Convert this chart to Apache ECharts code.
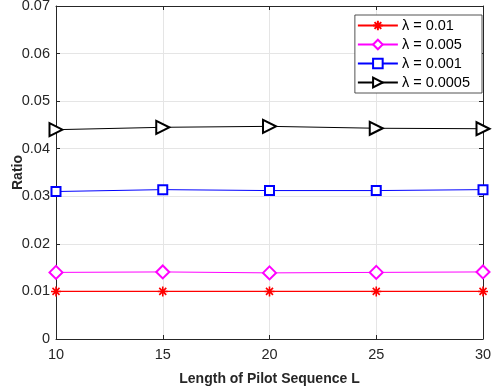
<!DOCTYPE html>
<html>
<head>
<meta charset="UTF-8">
<title>Ratio vs pilot length</title>
<script src="https://cdn.jsdelivr.net/npm/echarts@6/dist/echarts.min.js"></script>
<style>
	html, body { margin: 0; padding: 0; background: #fff; }
	#main { width: 492px; height: 388px; }
</style>
</head>
<body>
<div id="main"></div>
<script type="text/javascript">
	var pilotLen = [10, 15, 20, 25, 30];
	var ratioL001 = [0.0100, 0.0100, 0.0100, 0.0100, 0.0100];
	var ratioL0005 = [0.0140, 0.0141, 0.0139, 0.0140, 0.0141];
	var ratioL0001 = [0.0310, 0.0314, 0.0312, 0.0312, 0.0314];
	var ratioL00005 = [0.0440, 0.0445, 0.0447, 0.0443, 0.0442];
	var seriesNames = ['λ = 0.01', 'λ = 0.005', 'λ = 0.001', 'λ = 0.0005'];

	var asterisk = 'path://M5,0L5,10M0,5L10,5M1.5,1.5L8.5,8.5M1.5,8.5L8.5,1.5';
	var txt = '#262626';
	var fontFam = '"Liberation Sans", Arial, sans-serif';

	function pairs(ys) {
		var out = [];
		for (var i = 0; i < pilotLen.length; i++) {
			out.push([pilotLen[i], ys[i]]);
		}
		return out;
	}

	var chart = echarts.init(document.getElementById('main'), null, {renderer: 'canvas'});

	var option = {
		animation: false,
		textStyle: {fontFamily: fontFam},
		grid: {left: 56, right: 9, top: 6, bottom: 49, containLabel: false, outerBoundsMode: 'none'},
		legend: {
			orient: 'vertical',
			right: 10,
			top: 15,
			itemWidth: 40,
			itemHeight: 12,
			itemGap: 4,
			padding: [3, 12, 3, 2],
			backgroundColor: '#fff',
			borderColor: txt,
			borderWidth: 0.8,
			textStyle: {fontSize: 14.5, color: '#000', fontFamily: fontFam, padding: [0, 0, 0, -1]},
			data: seriesNames
		},
		xAxis: [{
			type: 'value', min: 10, max: 30, interval: 5,
			name: 'Length of Pilot Sequence L',
			nameLocation: 'middle', nameGap: 33, nameMoveOverlap: false,
			nameTextStyle: {fontSize: 14, fontWeight: 'bold', color: txt},
			axisLine: {onZero: false, lineStyle: {color: txt, width: 1}},
			axisTick: {inside: true, length: 4, lineStyle: {color: txt}},
			axisLabel: {fontSize: 14.5, color: txt, margin: 8},
			splitLine: {show: true, lineStyle: {color: '#e5e5e5', width: 1}}
		}, {
			type: 'value', min: 10, max: 30, interval: 5, position: 'top',
			axisLine: {show: true, onZero: false, lineStyle: {color: txt, width: 1}},
			axisTick: {inside: true, length: 4, lineStyle: {color: txt}},
			axisLabel: {show: false},
			splitLine: {show: false}
		}],
		yAxis: [{
			type: 'value', min: 0, max: 0.07, interval: 0.01,
			name: 'Ratio',
			nameLocation: 'middle', nameGap: 31, nameMoveOverlap: false,
			nameTextStyle: {fontSize: 14, fontWeight: 'bold', color: txt},
			axisLine: {show: true, onZero: false, lineStyle: {color: txt, width: 1}},
			axisTick: {show: true, inside: true, length: 4, lineStyle: {color: txt}},
			axisLabel: {fontSize: 14.5, color: txt, margin: 6,
				formatter: function (v) { return v === 0 ? '0' : v.toFixed(2); }},
			splitLine: {show: true, lineStyle: {color: '#e5e5e5', width: 1}}
		}, {
			type: 'value', min: 0, max: 0.07, interval: 0.01, position: 'right',
			axisLine: {show: true, onZero: false, lineStyle: {color: txt, width: 1}},
			axisTick: {show: true, inside: true, length: 4, lineStyle: {color: txt}},
			axisLabel: {show: false},
			splitLine: {show: false}
		}],
		series: [{
			name: seriesNames[0], type: 'line', data: pairs(ratioL001),
			symbol: asterisk, symbolSize: 10,
			lineStyle: {color: '#ff0000', width: 1.2},
			itemStyle: {color: '#ff0000', borderColor: '#ff0000', borderWidth: 1.6}
		}, {
			name: seriesNames[1], type: 'line', data: pairs(ratioL0005),
			symbol: 'emptyDiamond', symbolSize: 13,
			lineStyle: {color: '#ff00ff', width: 1},
			itemStyle: {color: '#ff00ff', borderWidth: 1.2}
		}, {
			name: seriesNames[2], type: 'line', data: pairs(ratioL0001),
			symbol: 'emptyRect', symbolSize: 9,
			lineStyle: {color: '#0000ff', width: 1},
			itemStyle: {color: '#0000ff', borderWidth: 1.2}
		}, {
			name: seriesNames[3], type: 'line', data: pairs(ratioL00005),
			symbol: 'emptyTriangle', symbolSize: 13, symbolRotate: -90,
			lineStyle: {color: '#000000', width: 1},
			itemStyle: {color: '#000000', borderWidth: 1.2}
		}]
	};

	chart.setOption(option);
</script>
</body>
</html>
